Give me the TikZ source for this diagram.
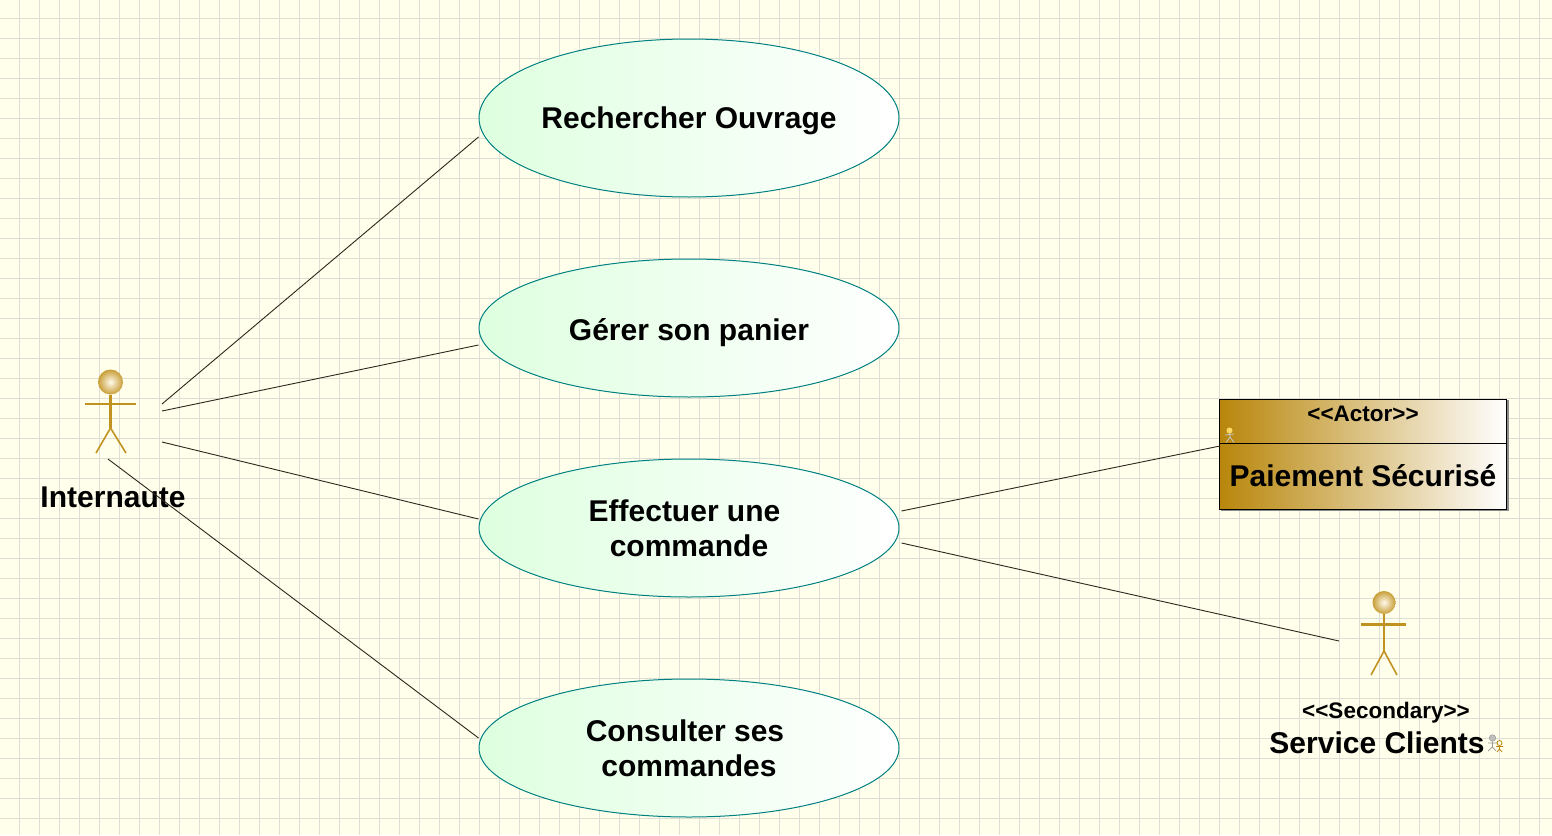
\documentclass[tikz,border=0pt]{standalone}
\usepackage{fontspec}
\setmainfont{Liberation Sans}[Ligatures=NoCommon]
\usetikzlibrary{shapes.geometric,calc}
\definecolor{paper}{RGB}{255,255,236}
\definecolor{gridc}{RGB}{222,222,212}
\definecolor{teal2}{RGB}{0,128,128}
\definecolor{mint}{RGB}{222,255,224}
\definecolor{gold}{RGB}{184,134,11}
\definecolor{limb}{RGB}{192,146,32}
\definecolor{linkc}{RGB}{45,38,28}
\definecolor{ballin}{RGB}{255,250,235}
\definecolor{ballout}{RGB}{200,158,56}
\tikzset{
  usecase/.style={ellipse,draw=teal2,line width=1pt,left color=mint,right color=white,
    minimum width=420pt,inner sep=0pt,font=\fontsize{30}{35}\selectfont\bfseries,align=center,text=black},
  link/.style={draw=linkc,line width=0.9pt},
  limbs/.style={draw=limb,line width=2.2pt},
  thinlimb/.style={draw=limb,line width=1.6pt},
  ball/.style={circle,draw=none,inner sep=0pt,inner color=ballin,outer color=ballout},
  lab/.style={inner sep=0pt,text=black,font=\fontsize{30}{35}\selectfont\bfseries},
  small/.style={inner sep=0pt,text=black,font=\fontsize{22.5}{26}\selectfont\bfseries},
}
\begin{document}
\begin{tikzpicture}[x=1pt,y=-1pt]
\useasboundingbox (0,0) rectangle (1552,835);
\fill[paper] (0,0) rectangle (1552,835);
\foreach \g in {0,...,77}{\draw[gridc,line width=1pt] ({19.5+20*\g},0) -- ({19.5+20*\g},835);}
\foreach \g in {0,...,40}{\draw[gridc,line width=1pt] (0,{18.5+20*\g}) -- (1552,{18.5+20*\g});}
% use cases
\node[usecase,minimum height=158pt,text height=28pt] (uc1) at (689,118) {Rechercher Ouvrage};
\node[usecase,minimum height=138pt,text height=31pt] (uc2) at (689,328) {Gérer son panier};
\node[usecase,minimum height=138pt] (uc3) at (689,528) {Effectuer une\kern9pt\\commande};
\node[usecase,minimum height=138pt] (uc4) at (689,748) {Consulter ses\kern8pt\\commandes};
% actor Internaute
\node[ball,minimum width=25pt] (head1) at (110.5,382) {};
\draw[limbs] (head1.south) -- (110.5,428);
\draw[limbs] (85,404) -- (136,404);
\draw[thinlimb] (110.5,428) -- (96,453);
\draw[thinlimb] (110.5,428) -- (126,453);
\node[lab] (internaute) at (113,497) {Internaute};
\coordinate (i1) at (162,404);
\coordinate (i2) at (162,411);
\coordinate (i3) at (162,442);
\coordinate (i4) at (108,459);
% actor box
\fill[black!45] (1221,400) rectangle (1508.5,510.5);
\node[draw=black,line width=1pt,left color=gold,right color=white,minimum width=287pt,minimum height=110pt,inner sep=0pt] (pay) at (1363,454) {};
\draw[black,line width=1pt] (pay.west |- 0,443.5) -- (pay.east |- 0,443.5);
\node[small] (stereo1) at (1363,414) {{<}{<}Actor{>}{>}};
\node[lab] (payname) at (1363,476) {Paiement Sécurisé};
\coordinate (p1) at (1220,446);
% little actor in box
\draw[black!22,line width=0.8pt] (1229.5,432) -- (1230,437) (1225,435) -- (1234,434) (1230,437) -- (1226,442.5) (1230,437) -- (1234,442.5);
\node[circle,fill=yellow!55!orange!60,inner sep=0pt,minimum width=6pt] (mini1) at (1229.5,430.5) {};
% actor Service Clients
\node[ball,minimum width=23pt] (head2) at (1384,602.5) {};
\draw[thinlimb] (head2.south) -- (1384,651);
\draw[limbs] (1361,624.5) -- (1406,624.5);
\draw[thinlimb] (1384,651) -- (1371,675);
\draw[thinlimb] (1384,651) -- (1397,675);
\node[small] (stereo2) at (1386,713) {{<}{<}Secondary{>}{>}};
\node[lab] (service) at (1377,743) {Service Clients};
\coordinate (s1) at (1339,641);
% little double icon
\node[circle,draw=black!40,fill=black!25,line width=0.5pt,inner sep=0pt,minimum width=6.5pt] (mini2) at (1492.5,738) {};
\draw[black!40,line width=0.7pt] (mini2.south) -- (1492.5,747) (1488,743) -- (1498,743) (1492.5,747) -- (1488,751) (1492.5,747) -- (1496,751);
\node[circle,draw=gold,fill=paper,line width=0.8pt,inner sep=0pt,minimum width=5pt] (mini3) at (1499.5,743) {};
\draw[gold,line width=0.8pt] (mini3.south) -- (1499.5,749) (1496,746.5) -- (1503,746.5) (1499.5,749) -- (1497,752) (1499.5,749) -- (1502,752);
% links
\draw[link] (i1) -- ($(uc1.west)+(0,19)$);
\draw[link] (i2) -- ($(uc2.west)+(0,17)$);
\draw[link] (i3) -- ($(uc3.west)+(0,-9)$);
\draw[link] (i4) -- ($(uc4.west)+(0,-10)$);
\draw[link] ($(uc3.east)+(2,-17)$) -- (p1);
\draw[link] ($(uc3.east)+(2,15)$) -- (s1);
\end{tikzpicture}
\end{document}
